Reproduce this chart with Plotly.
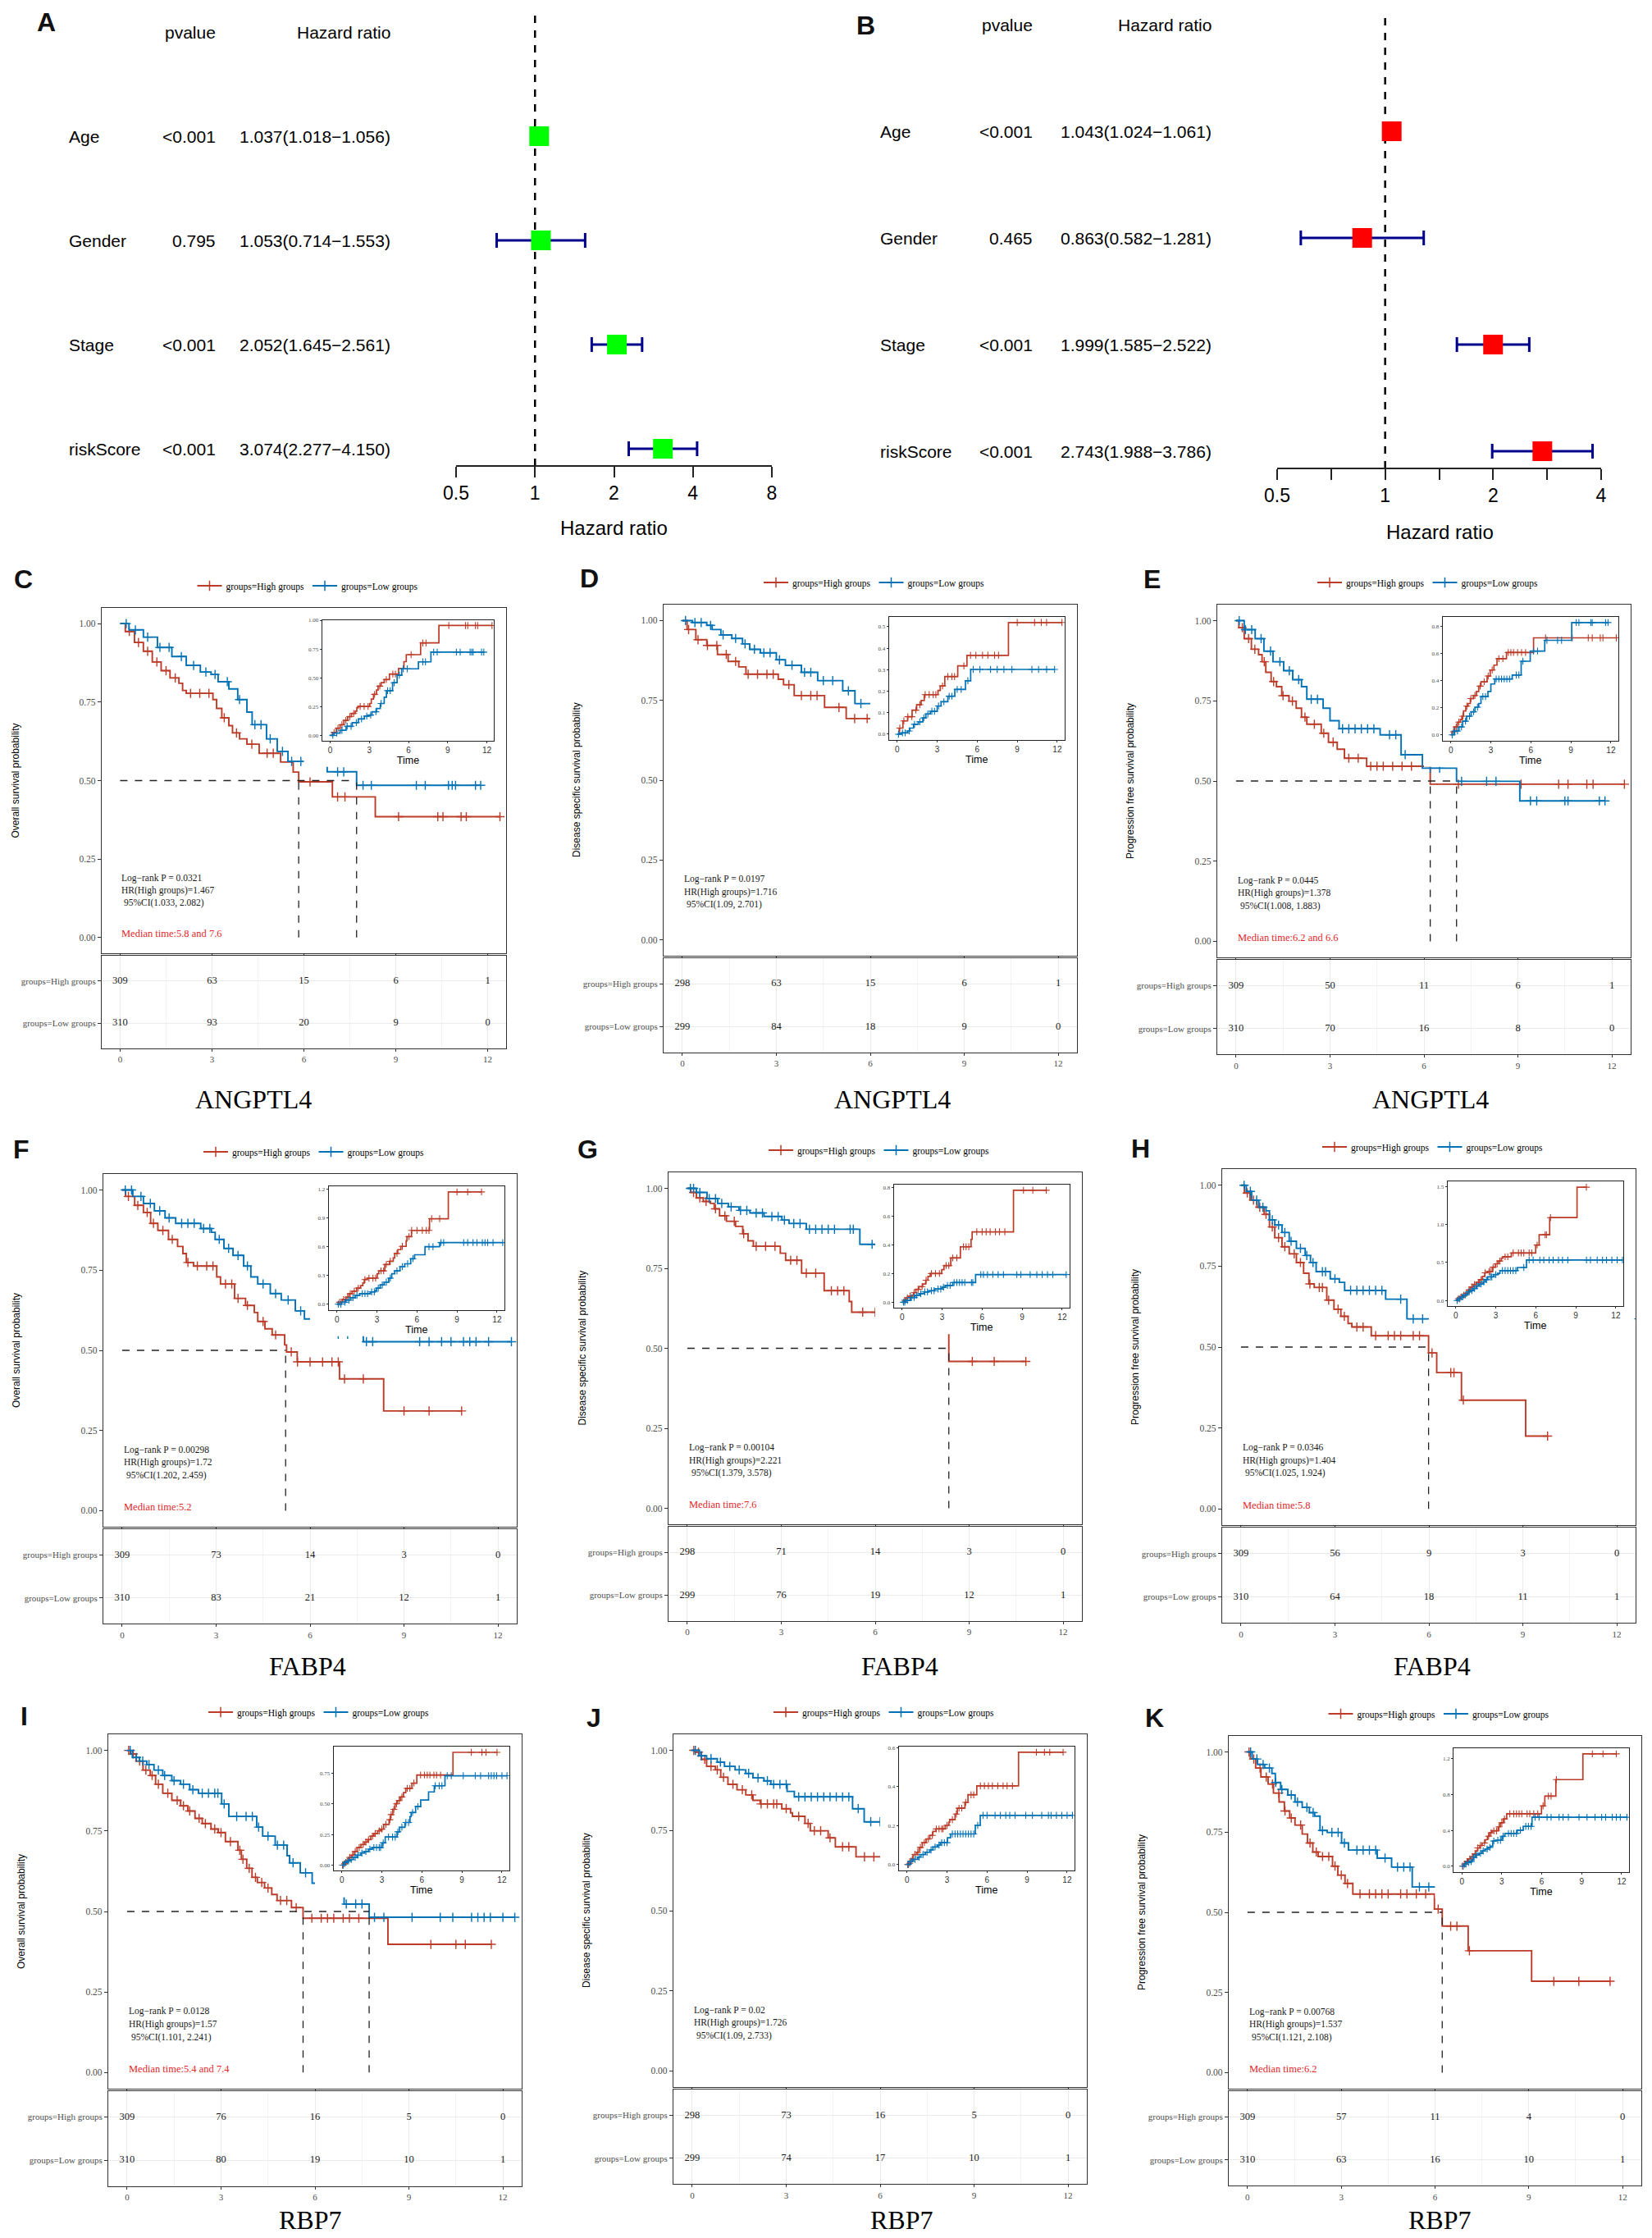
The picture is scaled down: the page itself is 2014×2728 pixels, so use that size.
import math
import plotly.graph_objects as go

# ---------------- forest plots (A, B) ----------------
VARIABLES = ['Age', 'Gender', 'Stage', 'riskScore']
A_PVAL = ['<0.001', '0.795', '<0.001', '<0.001']
A_HR = [1.037, 1.053, 2.052, 3.074]
A_LOW = [1.018, 0.714, 1.645, 2.277]
A_HIGH = [1.056, 1.553, 2.561, 4.150]
B_PVAL = ['<0.001', '0.465', '<0.001', '<0.001']
B_HR = [1.043, 0.863, 1.999, 2.743]
B_LOW = [1.024, 0.582, 1.585, 1.988]
B_HIGH = [1.061, 1.281, 2.522, 3.786]
A_TICKS = [0.5, 1, 2, 4, 8]
A_TICKTEXT = ['0.5', '1', '2', '4', '8']
B_TICKS = [0.5, 0.7071, 1, 1.4142, 2, 2.8284, 4]
B_TICKTEXT = ['0.5', '', '1', '', '2', '', '4']

# ---------------- Kaplan-Meier curves (time in years, survival) ----------------
RISK_TIMES = [0, 3, 6, 9, 12]

# C  ANGPTL4 overall survival
C_HIGH_T = [0, 0.17, 0.47, 0.76, 1.05, 1.34, 1.63, 1.92, 2.04, 2.16, 3.03, 3.15, 3.32, 3.55, 3.67, 3.9, 4.14, 4.54, 5.24, 5.65, 5.83, 6.93, 8.33, 12.4]
C_HIGH_S = [1.0, 0.975, 0.94, 0.912, 0.878, 0.85, 0.827, 0.81, 0.787, 0.778, 0.758, 0.73, 0.70, 0.675, 0.652, 0.633, 0.616, 0.587, 0.559, 0.527, 0.496, 0.448, 0.385, 0.385]
C_HIGH_CENS = [0.3, 0.6, 0.9, 1.2, 1.5, 1.8, 2.3, 2.6, 2.9, 3.4, 3.8, 4.3, 4.8, 5.0, 6.2, 7.1, 7.34, 9.09, 10.37, 10.54, 11.13, 11.3, 12.4]
C_LOW_T = [0, 0.29, 0.76, 1.22, 1.69, 2.16, 2.62, 2.97, 3.2, 3.55, 3.84, 4.14, 4.31, 4.78, 5.13, 5.48, 6.76, 7.72, 11.77]
C_LOW_S = [1.0, 0.98, 0.957, 0.924, 0.895, 0.867, 0.846, 0.838, 0.815, 0.792, 0.758, 0.718, 0.678, 0.633, 0.593, 0.561, 0.528, 0.485, 0.485]
C_LOW_CENS = [0.2, 0.5, 0.9, 1.3, 1.6, 2.0, 2.4, 2.8, 3.1, 3.5, 3.9, 4.4, 4.6, 4.9, 5.3, 5.6, 5.9, 7.1, 7.3, 7.93, 8.2, 9.67, 9.96, 10.72, 10.84, 10.95, 11.6, 11.77]
C_MEDIAN = [5.83, 7.72]
C_RISK_HIGH = [309, 63, 15, 6, 1]
C_RISK_LOW = [310, 93, 20, 9, 0]
C_STATS = ['Log\u2212rank P = 0.0321', 'HR(High groups)=1.467', '\u00a095%CI(1.033, 2.082)']
C_MEDIAN_TEXT = 'Median time:5.8 and 7.6'

# D  ANGPTL4 disease specific survival
D_HIGH_T = [0, 0.15, 0.43, 0.78, 1.12, 1.46, 1.8, 2.03, 3.06, 3.23, 3.57, 4.54, 5.23, 8.34, 12.35]
D_HIGH_S = [1.0, 0.972, 0.94, 0.922, 0.894, 0.872, 0.855, 0.832, 0.816, 0.799, 0.765, 0.728, 0.693, 0.595, 0.595]
D_HIGH_CENS = [0.2, 0.5, 0.8, 1.1, 1.4, 1.7, 2.1, 2.4, 2.7, 2.9, 3.4, 3.8, 4.1, 4.3, 5.0, 5.5, 5.9, 6.4, 6.8, 7.3, 7.6, 9.0, 10.3, 10.8, 11.2, 12.35]
D_LOW_T = [0, 0.32, 0.78, 0.95, 1.23, 1.58, 1.92, 2.15, 2.49, 3.0, 3.29, 3.8, 4.32, 5.12, 5.51, 11.8]
D_LOW_S = [1.0, 0.994, 0.985, 0.972, 0.955, 0.944, 0.927, 0.91, 0.899, 0.877, 0.86, 0.838, 0.812, 0.78, 0.74, 0.74]
D_LOW_CENS = [0.1, 0.4, 0.6, 0.9, 1.3, 1.7, 2.0, 2.3, 2.6, 2.8, 3.1, 3.5, 3.9, 4.1, 4.5, 4.8, 5.3, 5.7, 6.2, 7.0, 7.5, 8.0, 8.6, 10.1, 10.6, 11.2, 11.8]
D_MEDIAN = []
D_RISK_HIGH = [298, 63, 15, 6, 1]
D_RISK_LOW = [299, 84, 18, 9, 0]
D_STATS = ['Log\u2212rank P = 0.0197', 'HR(High groups)=1.716', '\u00a095%CI(1.09, 2.701)']
D_MEDIAN_TEXT = ''

# E  ANGPTL4 progression free survival
E_HIGH_T = [0, 0.09, 0.26, 0.49, 0.72, 0.83, 0.95, 1.12, 1.29, 1.46, 1.69, 1.92, 2.09, 2.26, 2.72, 2.95, 3.23, 3.46, 4.17, 6.2, 12.4]
E_HIGH_S = [1.0, 0.978, 0.944, 0.911, 0.894, 0.872, 0.839, 0.81, 0.794, 0.766, 0.749, 0.727, 0.699, 0.677, 0.649, 0.621, 0.599, 0.571, 0.546, 0.49, 0.49]
E_HIGH_CENS = [0.2, 0.4, 0.6, 0.9, 1.2, 1.5, 1.8, 2.2, 2.5, 2.8, 3.1, 3.6, 3.9, 4.3, 4.5, 4.7, 5.0, 5.3, 5.6, 7.1, 9.1, 10.3, 10.6, 11.2, 11.4, 12.4]
E_LOW_T = [0, 0.26, 0.61, 0.89, 1.18, 1.52, 1.81, 2.09, 2.26, 2.78, 3.0, 3.29, 4.6, 5.27, 5.95, 7.04, 9.06, 11.78]
E_LOW_S = [1.0, 0.972, 0.944, 0.905, 0.872, 0.844, 0.816, 0.794, 0.755, 0.727, 0.688, 0.663, 0.644, 0.582, 0.540, 0.499, 0.438, 0.438]
E_LOW_CENS = [0.1, 0.3, 0.5, 0.8, 1.1, 1.4, 1.7, 2.0, 2.4, 2.6, 3.4, 3.6, 3.8, 4.0, 4.2, 4.4, 4.9, 5.1, 5.4, 6.2, 6.5, 7.2, 8.0, 8.3, 9.4, 9.6, 10.5, 10.6, 11.6, 11.78]
E_MEDIAN = [6.2, 7.04]
E_RISK_HIGH = [309, 50, 11, 6, 1]
E_RISK_LOW = [310, 70, 16, 8, 0]
E_STATS = ['Log\u2212rank P = 0.0445', 'HR(High groups)=1.378', '\u00a095%CI(1.008, 1.883)']
E_MEDIAN_TEXT = 'Median time:6.2 and 6.6'

# F  FABP4 overall survival
F_HIGH_T = [0, 0.11, 0.4, 0.68, 0.91, 1.14, 1.48, 1.77, 1.94, 2.05, 2.28, 3.02, 3.14, 3.59, 3.94, 4.22, 4.33, 4.56, 4.79, 5.19, 5.25, 5.59, 6.94, 8.35, 10.84]
F_HIGH_S = [1.0, 0.98, 0.952, 0.93, 0.896, 0.874, 0.846, 0.824, 0.802, 0.774, 0.763, 0.729, 0.707, 0.662, 0.64, 0.618, 0.59, 0.567, 0.548, 0.517, 0.495, 0.464, 0.411, 0.311, 0.311]
F_HIGH_CENS = [0.2, 0.5, 0.8, 1.0, 1.3, 1.6, 2.1, 2.4, 2.7, 2.9, 3.3, 3.5, 3.7, 4.0, 4.5, 4.9, 5.4, 5.6, 6.0, 6.4, 6.7, 6.9, 7.1, 7.7, 9.0, 9.8, 10.84]
F_LOW_T = [0, 0.34, 0.68, 1.03, 1.37, 1.71, 2.51, 2.85, 2.97, 3.25, 3.54, 3.88, 4.11, 4.33, 4.73, 5.08, 5.53, 5.82, 6.6, 7.7, 12.43]
F_LOW_S = [1.0, 0.98, 0.958, 0.935, 0.913, 0.896, 0.88, 0.868, 0.846, 0.818, 0.796, 0.763, 0.729, 0.707, 0.677, 0.657, 0.623, 0.598, 0.55, 0.527, 0.527]
F_LOW_CENS = [0.1, 0.3, 0.6, 0.9, 1.2, 1.5, 1.9, 2.1, 2.3, 2.6, 2.8, 3.1, 3.4, 3.7, 4.0, 4.5, 4.9, 5.3, 5.7, 6.9, 7.2, 7.8, 8.0, 9.5, 9.8, 10.2, 10.5, 10.9, 11.1, 11.3, 11.7, 12.43]
F_MEDIAN = [5.22]
F_RISK_HIGH = [309, 73, 14, 3, 0]
F_RISK_LOW = [310, 83, 21, 12, 1]
F_STATS = ['Log\u2212rank P = 0.00298', 'HR(High groups)=1.72', '\u00a095%CI(1.202, 2.459)']
F_MEDIAN_TEXT = 'Median time:5.2'

# G  FABP4 disease specific survival
G_HIGH_T = [0, 0.11, 0.29, 0.51, 0.74, 0.86, 1.03, 1.25, 1.54, 1.77, 1.94, 2.11, 2.97, 3.14, 3.65, 4.37, 5.17, 5.25, 8.35, 10.81]
G_HIGH_S = [1.0, 0.987, 0.97, 0.959, 0.953, 0.936, 0.914, 0.897, 0.881, 0.858, 0.836, 0.819, 0.797, 0.775, 0.735, 0.68, 0.646, 0.613, 0.459, 0.459]
G_HIGH_CENS = [0.2, 0.4, 0.6, 0.9, 1.2, 1.5, 1.8, 2.2, 2.5, 2.8, 3.3, 3.5, 3.8, 4.1, 4.6, 4.8, 5.0, 5.6, 6.0, 6.3, 6.6, 7.0, 7.3, 7.7, 9.1, 9.8, 10.81]
G_LOW_T = [0, 0.29, 0.63, 0.97, 1.31, 1.65, 2.0, 2.45, 3.02, 3.25, 3.8, 5.51, 12.3]
G_LOW_S = [1.0, 0.987, 0.968, 0.953, 0.942, 0.931, 0.923, 0.912, 0.901, 0.89, 0.872, 0.825, 0.825]
G_LOW_CENS = [0.1, 0.2, 0.4, 0.7, 0.9, 1.1, 1.4, 1.7, 1.9, 2.2, 2.4, 2.7, 2.9, 3.1, 3.4, 3.6, 3.9, 4.1, 4.3, 4.5, 4.7, 5.2, 5.3, 5.9, 6.1, 6.4, 6.8, 7.2, 7.6, 8.6, 8.9, 9.6, 10.1, 10.5, 10.9, 11.3, 12.3]
G_MEDIAN = [8.35]
G_RISK_HIGH = [298, 71, 14, 3, 0]
G_RISK_LOW = [299, 76, 19, 12, 1]
G_STATS = ['Log\u2212rank P = 0.00104', 'HR(High groups)=2.221', '\u00a095%CI(1.379, 3.578)']
G_MEDIAN_TEXT = 'Median time:7.6'

# H  FABP4 progression free survival
H_HIGH_T = [0, 0.11, 0.29, 0.51, 0.74, 0.91, 1.08, 1.31, 1.54, 1.77, 2.0, 2.17, 2.34, 2.74, 2.97, 3.19, 3.42, 3.54, 4.16, 5.99, 6.25, 7.04, 9.09, 9.79]
H_HIGH_S = [1.0, 0.976, 0.954, 0.932, 0.91, 0.871, 0.838, 0.81, 0.788, 0.761, 0.728, 0.695, 0.684, 0.645, 0.617, 0.595, 0.573, 0.562, 0.535, 0.482, 0.421, 0.336, 0.225, 0.225]
H_HIGH_CENS = [0.2, 0.4, 0.6, 0.8, 1.0, 1.2, 1.4, 1.7, 1.9, 2.2, 2.5, 2.6, 2.8, 3.1, 3.3, 3.7, 3.9, 4.3, 4.7, 4.9, 5.1, 5.5, 5.7, 6.1, 6.7, 6.8, 7.1, 9.79]
H_LOW_T = [0, 0.17, 0.34, 0.57, 0.8, 0.91, 1.08, 1.31, 1.54, 1.77, 2.05, 2.22, 2.4, 2.85, 3.14, 3.31, 4.62, 5.3, 12.5]
H_LOW_S = [1.0, 0.981, 0.954, 0.932, 0.921, 0.893, 0.877, 0.854, 0.827, 0.805, 0.783, 0.761, 0.733, 0.711, 0.7, 0.675, 0.648, 0.587, 0.587]
H_LOW_CENS = [0.1, 0.3, 0.5, 0.7, 1.0, 1.2, 1.4, 1.6, 1.9, 2.1, 2.3, 2.6, 2.7, 3.0, 3.5, 3.7, 3.9, 4.1, 4.3, 4.5, 5.1, 5.5, 5.8, 6.3, 6.6, 7.0, 7.3, 7.7, 8.0, 8.4, 9.8, 10.1, 10.6, 11.0, 11.3, 11.7, 12.1, 12.5]
H_MEDIAN = [5.99]
H_RISK_HIGH = [309, 56, 9, 3, 0]
H_RISK_LOW = [310, 64, 18, 11, 1]
H_STATS = ['Log\u2212rank P = 0.0346', 'HR(High groups)=1.404', '\u00a095%CI(1.025, 1.924)']
H_MEDIAN_TEXT = 'Median time:5.8'

# I  RBP7 overall survival
I_HIGH_T = [0, 0.11, 0.29, 0.51, 0.74, 0.91, 1.14, 1.43, 1.71, 1.94, 2.17, 2.4, 2.68, 2.91, 3.14, 3.54, 3.65, 3.82, 3.99, 4.16, 4.39, 4.62, 4.79, 5.25, 5.62, 8.33, 11.63]
I_HIGH_S = [1.0, 0.989, 0.967, 0.939, 0.922, 0.895, 0.867, 0.845, 0.828, 0.812, 0.789, 0.773, 0.756, 0.745, 0.717, 0.69, 0.662, 0.634, 0.606, 0.59, 0.573, 0.553, 0.534, 0.512, 0.479, 0.398, 0.398]
I_HIGH_CENS = [0.05, 0.2, 0.4, 0.6, 0.8, 1.0, 1.3, 1.6, 1.8, 2.0, 2.3, 2.5, 2.8, 3.0, 3.3, 3.6, 3.7, 3.9, 4.1, 4.3, 4.5, 4.9, 5.1, 5.4, 5.9, 6.2, 6.4, 6.6, 6.9, 7.1, 7.4, 9.7, 10.5, 10.8, 11.63]
I_LOW_T = [0, 0.17, 0.4, 0.63, 0.86, 1.14, 1.43, 1.71, 2.0, 2.28, 3.02, 3.25, 4.14, 4.33, 4.73, 5.11, 5.19, 5.53, 5.91, 6.5, 6.93, 7.73, 12.38]
I_LOW_S = [1.0, 0.978, 0.967, 0.956, 0.939, 0.922, 0.906, 0.895, 0.878, 0.867, 0.834, 0.795, 0.762, 0.734, 0.706, 0.673, 0.651, 0.62, 0.588, 0.55, 0.523, 0.482, 0.482]
I_LOW_CENS = [0.1, 0.3, 0.5, 0.7, 1.0, 1.2, 1.5, 1.8, 2.1, 2.4, 2.6, 2.8, 2.9, 3.1, 3.5, 3.8, 4.0, 4.2, 4.5, 4.8, 5.0, 5.3, 5.7, 7.0, 7.3, 7.5, 7.9, 8.2, 9.1, 10.0, 10.4, 11.0, 11.2, 11.4, 11.6, 12.0, 12.38]
I_MEDIAN = [5.62, 7.73]
I_RISK_HIGH = [309, 76, 16, 5, 0]
I_RISK_LOW = [310, 80, 19, 10, 1]
I_STATS = ['Log\u2212rank P = 0.0128', 'HR(High groups)=1.57', '\u00a095%CI(1.101, 2.241)']
I_MEDIAN_TEXT = 'Median time:5.4 and 7.4'

# J  RBP7 disease specific survival
J_HIGH_T = [0, 0.11, 0.29, 0.46, 0.74, 0.91, 1.14, 1.43, 1.71, 1.94, 2.17, 2.86, 3.14, 3.2, 3.6, 3.77, 4.34, 4.57, 5.23, 8.36, 11.7]
J_HIGH_S = [1.0, 0.994, 0.972, 0.95, 0.939, 0.916, 0.894, 0.877, 0.861, 0.844, 0.833, 0.818, 0.805, 0.794, 0.772, 0.749, 0.727, 0.699, 0.668, 0.562, 0.562]
J_HIGH_CENS = [0.05, 0.2, 0.4, 0.6, 0.8, 1.0, 1.3, 1.6, 1.9, 2.2, 2.4, 2.6, 2.7, 3.0, 3.4, 3.7, 3.9, 4.1, 4.4, 4.8, 5.0, 5.5, 5.8, 6.1, 6.4, 6.8, 7.2, 7.5, 7.9, 9.7, 10.3, 10.7, 11.7]
J_LOW_T = [0, 0.23, 0.46, 0.8, 1.03, 1.37, 1.71, 1.94, 2.29, 2.51, 3.03, 3.26, 5.12, 5.49, 12.4]
J_LOW_S = [1.0, 0.983, 0.974, 0.963, 0.95, 0.939, 0.928, 0.914, 0.905, 0.894, 0.872, 0.855, 0.818, 0.777, 0.777]
J_LOW_CENS = [0.1, 0.3, 0.6, 0.9, 1.2, 1.5, 1.8, 2.1, 2.4, 2.6, 2.8, 3.0, 3.4, 3.6, 3.8, 4.0, 4.2, 4.4, 4.6, 4.8, 5.0, 5.3, 5.7, 6.0, 6.6, 7.0, 7.4, 7.7, 8.1, 8.9, 9.4, 10.1, 10.6, 10.8, 11.2, 11.6, 12.0, 12.4]
J_MEDIAN = []
J_RISK_HIGH = [298, 73, 16, 5, 0]
J_RISK_LOW = [299, 74, 17, 10, 1]
J_STATS = ['Log\u2212rank P = 0.02', 'HR(High groups)=1.726', '\u00a095%CI(1.09, 2.733)']
J_MEDIAN_TEXT = ''

# K  RBP7 progression free survival
K_HIGH_T = [0, 0.09, 0.26, 0.43, 0.66, 0.83, 1.01, 1.18, 1.35, 1.52, 1.75, 1.92, 2.09, 2.26, 2.72, 2.89, 3.12, 3.37, 5.98, 6.23, 7.06, 9.09, 11.6]
K_HIGH_S = [1.0, 0.978, 0.95, 0.922, 0.9, 0.872, 0.844, 0.816, 0.794, 0.772, 0.744, 0.716, 0.688, 0.674, 0.644, 0.616, 0.59, 0.557, 0.51, 0.457, 0.38, 0.285, 0.285]
K_HIGH_CENS = [0.05, 0.2, 0.4, 0.6, 0.8, 1.0, 1.2, 1.4, 1.7, 2.0, 2.2, 2.4, 2.6, 2.8, 3.0, 3.2, 3.6, 3.9, 4.1, 4.3, 4.5, 4.9, 5.1, 5.4, 5.7, 6.1, 6.5, 6.7, 7.1, 9.8, 10.6, 11.6]
K_LOW_T = [0, 0.15, 0.32, 0.55, 0.78, 0.89, 1.06, 1.29, 1.52, 1.75, 1.98, 2.15, 2.32, 2.55, 3.01, 3.23, 4.15, 4.61, 5.27, 12.4]
K_LOW_S = [1.0, 0.978, 0.961, 0.95, 0.933, 0.905, 0.883, 0.866, 0.844, 0.827, 0.811, 0.8, 0.755, 0.749, 0.716, 0.694, 0.669, 0.641, 0.579, 0.579]
K_LOW_CENS = [0.1, 0.3, 0.5, 0.7, 0.9, 1.1, 1.4, 1.6, 1.9, 2.1, 2.4, 2.7, 2.9, 3.1, 3.5, 3.7, 3.9, 4.1, 4.4, 4.8, 5.0, 5.2, 5.5, 5.8, 6.4, 6.7, 7.3, 7.6, 8.0, 8.8, 9.4, 10.0, 10.5, 10.8, 11.3, 11.6, 11.9, 12.4]
K_MEDIAN = [6.23]
K_RISK_HIGH = [309, 57, 11, 4, 0]
K_RISK_LOW = [310, 63, 16, 10, 1]
K_STATS = ['Log\u2212rank P = 0.00768', 'HR(High groups)=1.537', '\u00a095%CI(1.121, 2.108)']
K_MEDIAN_TEXT = 'Median time:6.2'

OS_TITLE = 'Overall survival probability'
DSS_TITLE = 'Disease specific survival probability'
PFS_TITLE = 'Progression free survival probability'

# ---------------- drawing ----------------
W, H = 2014, 2728
RED, BLUE = '#BC3C29', '#0072B5'
SERIF = 'Liberation Serif, Times New Roman, serif'
SANS = 'Liberation Sans, Arial, sans-serif'


def fx(px):
    return px / W


def fy(py):
    return 1 - py / H


def sfx(n):
    return '' if n == 1 else str(n)


def step_value(ts, ss, t):
    v = ss[0]
    for ti, si in zip(ts, ss):
        if ti <= t + 1e-9:
            v = si
        else:
            break
    return v


fig = go.Figure()
layout = {}
annotations = []


def forest(n, letter, letter_xy, pval, hr, lo, hi, color, ticks, ticktext,
           x_first, x_last, row1_py, row_sp, axis_py, top_py, cols, title_xy):
    s = sfx(n)

    def yv(py):
        return 1 + (row1_py - py) / row_sp

    rows = [4, 3, 2, 1]
    # reference line at HR = 1
    fig.add_trace(go.Scatter(x=[1, 1], y=[yv(axis_py), yv(top_py)], mode='lines',
                             line=dict(color='black', width=2.5, dash='dash'),
                             xaxis='x' + s, yaxis='y' + s, showlegend=False, hoverinfo='skip'))
    fig.add_trace(go.Scatter(
        x=hr, y=rows, mode='markers', xaxis='x' + s, yaxis='y' + s,
        marker=dict(symbol='square', size=24, color=color, line=dict(width=0)),
        error_x=dict(type='data', symmetric=False,
                     array=[h - m for m, h in zip(hr, hi)],
                     arrayminus=[m - l for m, l in zip(hr, lo)],
                     color='#00008B', thickness=3, width=9),
        cliponaxis=False, showlegend=False, hoverinfo='skip'))
    layout['xaxis' + s] = dict(
        domain=[fx(x_first), fx(x_last)], type='log',
        range=[math.log10(ticks[0]), math.log10(ticks[-1])],
        anchor='free', position=fy(axis_py), automargin=False,
        tickmode='array', tickvals=ticks, ticktext=ticktext,
        ticks='outside', ticklen=13, tickwidth=1.5, tickcolor='#222',
        showline=True, linecolor='#222', linewidth=1.5,
        tickfont=dict(family=SANS, size=23, color='black'),
        showgrid=False, zeroline=False)
    layout['yaxis' + s] = dict(domain=[fy(600), 1], range=[yv(600), yv(0)],
                               visible=False, anchor='x' + s, automargin=False)
    c_label, c_p, c_hr = cols
    font = dict(family=SANS, size=21, color='black')
    annotations.append(dict(text='pvalue', x=fx(c_p), y=5, xref='paper', yref='y' + s,
                            xanchor='right', yanchor='middle', showarrow=False, font=font))
    annotations.append(dict(text='Hazard ratio', x=fx(c_hr), y=5, xref='paper', yref='y' + s,
                            xanchor='right', yanchor='middle', showarrow=False, font=font))
    for name, p, m, l, h, r in zip(VARIABLES, pval, hr, lo, hi, rows):
        annotations.append(dict(text=name, x=fx(c_label), y=r, xref='paper', yref='y' + s,
                                xanchor='left', yanchor='middle', showarrow=False, font=font))
        annotations.append(dict(text=p, x=fx(c_p), y=r, xref='paper', yref='y' + s,
                                xanchor='right', yanchor='middle', showarrow=False, font=font))
        annotations.append(dict(text=f'{m:.3f}({l:.3f}\u2212{h:.3f})', x=fx(c_hr), y=r,
                                xref='paper', yref='y' + s, xanchor='right', yanchor='middle',
                                showarrow=False, font=font))
    annotations.append(dict(text='Hazard ratio', x=fx(title_xy[0]), y=fy(title_xy[1]),
                            xref='paper', yref='paper', xanchor='center', yanchor='middle',
                            showarrow=False, font=dict(family=SANS, size=24, color='black')))
    annotations.append(dict(text='<b>' + letter + '</b>', x=fx(letter_xy[0]), y=fy(letter_xy[1]),
                            xref='paper', yref='paper', xanchor='center', yanchor='middle',
                            showarrow=False, font=dict(family=SANS, size=32, color='#111')))


forest(28, 'A', (56, 27), A_PVAL, A_HR, A_LOW, A_HIGH, '#00FF00', A_TICKS, A_TICKTEXT,
       556, 941, 547, 127, 568, 13, (82, 265, 478), (748, 643))
forest(29, 'B', (1055, 31), B_PVAL, B_HR, B_LOW, B_HIGH, '#FF0000', B_TICKS, B_TICKTEXT,
       1557, 1952, 550, 130, 571, 15, (1071, 1261, 1479), (1755, 648))

PANELS = [
    dict(letter='C', box=(124, 741, 493, 421), letter_xy=(28, 706), ytitle=OS_TITLE,
         gene='ANGPTL4', gene_xy=(309, 1340),
         high=(C_HIGH_T, C_HIGH_S, C_HIGH_CENS), low=(C_LOW_T, C_LOW_S, C_LOW_CENS),
         med=C_MEDIAN, risk=(C_RISK_HIGH, C_RISK_LOW), stats=C_STATS, med_text=C_MEDIAN_TEXT,
         inset_ticks=([0, 0.25, 0.5, 0.75, 1.0], '.2f')),
    dict(letter='D', box=(809, 737, 504, 428), letter_xy=(718, 705), ytitle=DSS_TITLE,
         gene='ANGPTL4', gene_xy=(1088, 1340),
         high=(D_HIGH_T, D_HIGH_S, D_HIGH_CENS), low=(D_LOW_T, D_LOW_S, D_LOW_CENS),
         med=D_MEDIAN, risk=(D_RISK_HIGH, D_RISK_LOW), stats=D_STATS, med_text=D_MEDIAN_TEXT,
         inset_ticks=([0, 0.1, 0.2, 0.3, 0.4, 0.5], '.1f')),
    dict(letter='E', box=(1484, 737, 504, 430), letter_xy=(1404, 706), ytitle=PFS_TITLE,
         gene='ANGPTL4', gene_xy=(1744, 1340),
         high=(E_HIGH_T, E_HIGH_S, E_HIGH_CENS), low=(E_LOW_T, E_LOW_S, E_LOW_CENS),
         med=E_MEDIAN, risk=(E_RISK_HIGH, E_RISK_LOW), stats=E_STATS, med_text=E_MEDIAN_TEXT,
         inset_ticks=([0, 0.2, 0.4, 0.6, 0.8], '.1f')),
    dict(letter='F', box=(126, 1431, 504, 430), letter_xy=(26, 1401), ytitle=OS_TITLE,
         gene='FABP4', gene_xy=(375, 2031),
         high=(F_HIGH_T, F_HIGH_S, F_HIGH_CENS), low=(F_LOW_T, F_LOW_S, F_LOW_CENS),
         med=F_MEDIAN, risk=(F_RISK_HIGH, F_RISK_LOW), stats=F_STATS, med_text=F_MEDIAN_TEXT,
         inset_ticks=([0, 0.3, 0.6, 0.9, 1.2], '.1f')),
    dict(letter='G', box=(815, 1429, 504, 429), letter_xy=(716, 1401), ytitle=DSS_TITLE,
         gene='FABP4', gene_xy=(1097, 2031),
         high=(G_HIGH_T, G_HIGH_S, G_HIGH_CENS), low=(G_LOW_T, G_LOW_S, G_LOW_CENS),
         med=G_MEDIAN, risk=(G_RISK_HIGH, G_RISK_LOW), stats=G_STATS, med_text=G_MEDIAN_TEXT,
         inset_ticks=([0, 0.2, 0.4, 0.6, 0.8], '.1f')),
    dict(letter='H', box=(1490, 1425, 504, 434), letter_xy=(1390, 1400), ytitle=PFS_TITLE,
         gene='FABP4', gene_xy=(1746, 2031),
         high=(H_HIGH_T, H_HIGH_S, H_HIGH_CENS), low=(H_LOW_T, H_LOW_S, H_LOW_CENS),
         med=H_MEDIAN, risk=(H_RISK_HIGH, H_RISK_LOW), stats=H_STATS, med_text=H_MEDIAN_TEXT,
         inset_ticks=([0, 0.5, 1.0, 1.5], '.1f')),
    dict(letter='I', box=(132, 2114, 504, 432), letter_xy=(29, 2092), ytitle=OS_TITLE,
         gene='RBP7', gene_xy=(378, 2706),
         high=(I_HIGH_T, I_HIGH_S, I_HIGH_CENS), low=(I_LOW_T, I_LOW_S, I_LOW_CENS),
         med=I_MEDIAN, risk=(I_RISK_HIGH, I_RISK_LOW), stats=I_STATS, med_text=I_MEDIAN_TEXT,
         inset_ticks=([0, 0.25, 0.5, 0.75], '.2f')),
    dict(letter='J', box=(821, 2114, 504, 430), letter_xy=(724, 2094), ytitle=DSS_TITLE,
         gene='RBP7', gene_xy=(1099, 2706),
         high=(J_HIGH_T, J_HIGH_S, J_HIGH_CENS), low=(J_LOW_T, J_LOW_S, J_LOW_CENS),
         med=J_MEDIAN, risk=(J_RISK_HIGH, J_RISK_LOW), stats=J_STATS, med_text=J_MEDIAN_TEXT,
         inset_ticks=([0, 0.2, 0.4, 0.6], '.1f')),
    dict(letter='K', box=(1498, 2116, 503, 430), letter_xy=(1407, 2094), ytitle=PFS_TITLE,
         gene='RBP7', gene_xy=(1755, 2706),
         high=(K_HIGH_T, K_HIGH_S, K_HIGH_CENS), low=(K_LOW_T, K_LOW_S, K_LOW_CENS),
         med=K_MEDIAN, risk=(K_RISK_HIGH, K_RISK_LOW), stats=K_STATS, med_text=K_MEDIAN_TEXT,
         inset_ticks=([0, 0.4, 0.8, 1.2], '.1f')),
]

XR = [-0.6, 12.6]
YR = [-0.05, 1.05]
frame = dict(showline=True, mirror=True, linecolor='#333', linewidth=1.2,
             showgrid=False, zeroline=False, automargin=False)


def km_panel(k, p):
    L, T, w, h = p['box']
    sm, st, si = sfx(k), sfx(k + 9), sfx(k + 18)
    groups = [(p['high'], RED), (p['low'], BLUE)]

    # ---- main survival plot ----
    layout['xaxis' + sm] = dict(domain=[fx(L), fx(L + w)], range=XR, anchor='y' + sm,
                                tickvals=RISK_TIMES, showticklabels=False, ticks='outside',
                                ticklen=4, tickcolor='#333', **frame)
    layout['yaxis' + sm] = dict(domain=[fy(T + h), fy(T)], range=YR, anchor='x' + sm,
                                tickvals=[0, 0.25, 0.5, 0.75, 1], tickformat='.2f',
                                ticks='outside', ticklen=4, tickcolor='#333',
                                tickfont=dict(family=SERIF, size=11.5, color='#4D4D4D'), **frame)
    for (ts, ss, cens), col in groups:
        fig.add_trace(go.Scatter(x=ts, y=ss, mode='lines', line=dict(color=col, width=1.9, shape='hv'),
                                 xaxis='x' + sm, yaxis='y' + sm, showlegend=False, hoverinfo='skip'))
        fig.add_trace(go.Scatter(x=cens, y=[step_value(ts, ss, c) for c in cens], mode='markers',
                                 marker=dict(symbol='cross-thin', size=8, color=col,
                                             line=dict(color=col, width=1.4)),
                                 xaxis='x' + sm, yaxis='y' + sm, showlegend=False, hoverinfo='skip'))
    if p['med']:
        xs, ys = [0, max(p['med'])], [0.5, 0.5]
        for mv in p['med']:
            xs += [None, mv, mv]
            ys += [None, 0, 0.5]
        fig.add_trace(go.Scatter(x=xs, y=ys, mode='lines',
                                 line=dict(color='#222', width=1.3, dash='dash'),
                                 xaxis='x' + sm, yaxis='y' + sm, showlegend=False, hoverinfo='skip'))

    # white area of the inset figure that hides the main curves behind it
    def dx(px):
        return XR[0] + (px - L) / w * (XR[1] - XR[0])

    def dy(py):
        return YR[1] - (py - T) / h * (YR[1] - YR[0])

    mx0, mx1 = dx(L + 0.5 * w), dx(L + 0.997 * w)
    my0, my1 = dy(T + 0.46 * h), dy(T + 0.004 * h)
    fig.add_trace(go.Scatter(x=[mx0, mx1, mx1, mx0, mx0], y=[my0, my0, my1, my1, my0],
                             mode='lines', fill='toself', fillcolor='white',
                             line=dict(width=0, color='white'),
                             xaxis='x' + sm, yaxis='y' + sm, showlegend=False, hoverinfo='skip'))

    for i, line in enumerate(p['stats']):
        annotations.append(dict(text=line, x=0, y=[0.19, 0.15, 0.11][i], xref='x' + sm, yref='y' + sm,
                                xanchor='left', yanchor='middle', showarrow=False,
                                font=dict(family=SERIF, size=11.5, color='#1a1a1a')))
    if p['med_text']:
        annotations.append(dict(text=p['med_text'], x=0, y=0.012, xref='x' + sm, yref='y' + sm,
                                xanchor='left', yanchor='middle', showarrow=False,
                                font=dict(family=SERIF, size=12.5, color='#E3262B')))

    # ---- legend ----
    lg = 'legend' if k == 1 else 'legend' + str(k)
    for name, col in [('groups=High groups', RED), ('groups=Low groups', BLUE)]:
        fig.add_trace(go.Scatter(x=[None], y=[None], mode='lines+markers', name=name,
                                 line=dict(color=col, width=2),
                                 marker=dict(symbol='cross-thin', size=9, color=col,
                                             line=dict(color=col, width=1.5)),
                                 legend=lg, xaxis='x' + sm, yaxis='y' + sm, hoverinfo='skip'))
    layout[lg] = dict(orientation='h', x=fx(L + w / 2 + 5), y=fy(T - 27), xanchor='center',
                      yanchor='middle', font=dict(family=SERIF, size=11.5, color='black'),
                      bgcolor='rgba(0,0,0,0)', itemwidth=30, tracegroupgap=0)

    # ---- risk table ----
    tb, th = T + h + 3, 0.268 * h
    layout['xaxis' + st] = dict(domain=[fx(L), fx(L + w)], range=XR, anchor='y' + st,
                                tickvals=RISK_TIMES, ticks='outside', ticklen=3, tickcolor='#333',
                                tickfont=dict(family=SERIF, size=11, color='#4D4D4D'),
                                showline=True, mirror=True, linecolor='#333', linewidth=1.2,
                                showgrid=True, gridcolor='#EBEBEB', zeroline=False, automargin=False,
                                minor=dict(tickvals=[1.5, 4.5, 7.5, 10.5], showgrid=True,
                                           gridcolor='#F3F3F3'))
    layout['yaxis' + st] = dict(domain=[fy(tb + th), fy(tb)], range=[0.4, 2.6], anchor='x' + st,
                                tickvals=[1, 2], ticktext=['groups=Low groups', 'groups=High groups'],
                                ticks='outside', ticklen=4, tickcolor='#333',
                                tickfont=dict(family=SERIF, size=11, color='#4D4D4D'),
                                showline=True, mirror=True, linecolor='#333', linewidth=1.2,
                                showgrid=True, gridcolor='#EBEBEB', zeroline=False, automargin=False)
    rh, rl = p['risk']
    fig.add_trace(go.Scatter(x=RISK_TIMES + RISK_TIMES, y=[2] * len(rh) + [1] * len(rl),
                             text=[str(v) for v in rh + rl], mode='text',
                             textfont=dict(family=SERIF, size=12.5, color='#1a1a1a'),
                             xaxis='x' + st, yaxis='y' + st, showlegend=False, hoverinfo='skip',
                             cliponaxis=False))

    # ---- inset: cumulative hazard ----
    hmax = 0
    for (ts, ss, cens), col in groups:
        hz = [-math.log(s) + 0.0 for s in ss]
        hmax = max(hmax, max(hz))
        fig.add_trace(go.Scatter(x=ts, y=hz, mode='lines', line=dict(color=col, width=1.7, shape='hv'),
                                 xaxis='x' + si, yaxis='y' + si, showlegend=False, hoverinfo='skip'))
        fig.add_trace(go.Scatter(x=cens, y=[-math.log(step_value(ts, ss, c)) for c in cens],
                                 mode='markers',
                                 marker=dict(symbol='cross-thin', size=6, color=col,
                                             line=dict(color=col, width=1.1)),
                                 xaxis='x' + si, yaxis='y' + si, showlegend=False, hoverinfo='skip'))
    tv, tf = p['inset_ticks']
    layout['xaxis' + si] = dict(domain=[fx(L + 0.545 * w), fx(L + 0.97 * w)], range=[-0.62, 12.55],
                                anchor='y' + si, tickvals=RISK_TIMES, ticks='outside', ticklen=2,
                                tickcolor='#333', tickfont=dict(family=SANS, size=10, color='#333'),
                                title=dict(text='Time', font=dict(family=SANS, size=12.5, color='black'),
                                           standoff=0),
                                showline=True, mirror=True, linecolor='#222', linewidth=1.2,
                                showgrid=False, zeroline=False, automargin=False)
    layout['yaxis' + si] = dict(domain=[fy(T + 0.385 * h), fy(T + 0.035 * h)],
                                range=[-0.05 * hmax, 1.05 * hmax], anchor='x' + si,
                                tickvals=tv, tickformat=tf, ticks='outside', ticklen=2,
                                tickcolor='#333', tickfont=dict(family=SERIF, size=7, color='#4D4D4D'),
                                showline=True, mirror=True, linecolor='#222', linewidth=1.2,
                                showgrid=False, zeroline=False, automargin=False)

    # ---- labels ----
    annotations.append(dict(text=p['ytitle'], x=fx(L - 106), y=fy(T + h / 2), xref='paper', yref='paper',
                            textangle=-90, xanchor='center', yanchor='middle', showarrow=False,
                            font=dict(family=SANS, size=12, color='black')))
    annotations.append(dict(text='<b>' + p['letter'] + '</b>', x=fx(p['letter_xy'][0]),
                            y=fy(p['letter_xy'][1]), xref='paper', yref='paper', xanchor='center',
                            yanchor='middle', showarrow=False,
                            font=dict(family=SANS, size=32, color='#111')))
    annotations.append(dict(text=p['gene'], x=fx(p['gene_xy'][0]), y=fy(p['gene_xy'][1]),
                            xref='paper', yref='paper', xanchor='center', yanchor='middle',
                            showarrow=False, font=dict(family=SERIF, size=32, color='black')))


for k, p in enumerate(PANELS, start=1):
    km_panel(k, p)

fig.update_layout(width=W, height=H, margin=dict(l=0, r=0, t=0, b=0, autoexpand=False),
                  paper_bgcolor='white', plot_bgcolor='white',
                  annotations=annotations, **layout)

fig.write_html('out.html', config={'displayModeBar': False},
               post_script="document.body.style.margin='0px';")
